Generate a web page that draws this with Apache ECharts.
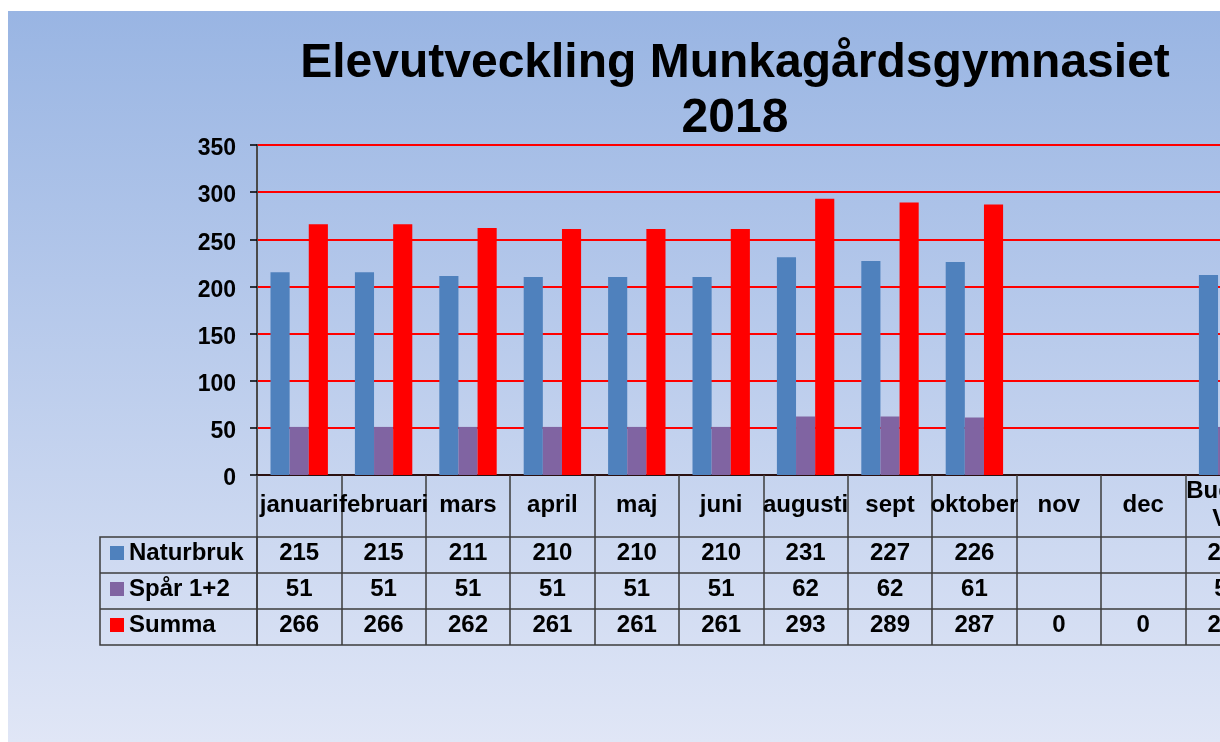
<!DOCTYPE html>
<html>
<head>
<meta charset="utf-8">
<script src="https://cdn.jsdelivr.net/npm/echarts@6/dist/echarts.min.js"></script>
<style>
  html, body { margin: 0; padding: 0; background: #fff; overflow: hidden; width: 1220px; height: 742px; }
  #bg {
    position: absolute; left: 8px; top: 11px; width: 1212px; height: 731px;
    background: linear-gradient(#99b5e3, #e0e6f6);
  }
  /* wider than the window: the last column runs past the right edge, as in the source */
  #chart { position: absolute; left: 0; top: 0; width: 1300px; height: 742px; }
</style>
</head>
<body>
<div id="bg"></div>
<div id="chart"></div>
<script>
const months = ['januari', 'februari', 'mars', 'april', 'maj', 'juni', 'augusti', 'sept', 'oktober', 'nov', 'dec', 'Budget\nVT'];
const naturbruk = [215, 215, 211, 210, 210, 210, 231, 227, 226, null, null, 212];
const spar = [51, 51, 51, 51, 51, 51, 62, 62, 61, null, null, 51];
const summa = [266, 266, 262, 261, 261, 261, 293, 289, 287, 0, 0, 263];
const yTicks = [0, 50, 100, 150, 200, 250, 300, 350];

const FONT = "'Liberation Sans', Arial, sans-serif";
const lineColor = '#3c3c3c';

// plot geometry
const plotLeft = 257, plotTop = 145, plotHeight = 330, colWidth = 84.4;
const headerRow = 62, rowH = 36;

const chart = echarts.init(document.getElementById('chart'));

function tableAxis(values, offset) {
  return {
    type: 'category',
    position: 'bottom',
    offset: offset,
    data: months,
    boundaryGap: true,
    axisLine: { show: true, lineStyle: { color: lineColor, width: 1.5 } },
    axisTick: { show: !!values, interval: 0, length: rowH, lineStyle: { color: lineColor, width: 1.5 } },
    axisLabel: {
      show: !!values,
      interval: 0,
      margin: 16,
      verticalAlign: 'middle',
      color: '#000',
      fontFamily: FONT,
      fontWeight: 'bold',
      fontSize: 24,
      formatter: (v, i) => (values && values[i] != null ? String(values[i]) : '')
    },
    splitLine: { show: false }
  };
}

const option = {
  animation: false,
  backgroundColor: 'transparent',
  title: {
    text: 'Elevutveckling Munkagårdsgymnasiet\n2018',
    left: 735,
    top: 36,
    padding: 0,
    textAlign: 'center',
    textStyle: {
      fontFamily: FONT,
      fontWeight: 'bold',
      fontSize: 48,
      lineHeight: 55,
      color: '#000'
    }
  },
  legend: [
    { data: ['Naturbruk'], top: 541 },
    { data: ['Spår 1+2'], top: 577 },
    { data: ['Summa'], top: 613 }
  ].map(l => Object.assign({
    left: 110,
    padding: 0,
    icon: 'rect',
    itemWidth: 14,
    itemHeight: 14,
    selectedMode: false,
    textStyle: { fontFamily: FONT, fontWeight: 'bold', fontSize: 24, color: '#000' }
  }, l)),
  grid: {
    left: plotLeft,
    top: plotTop,
    height: plotHeight,
    width: colWidth * months.length,
    containLabel: false
  },
  xAxis: [
    {
      type: 'category',
      data: months,
      boundaryGap: true,
      axisLine: { show: true, lineStyle: { color: '#2a1010', width: 2 } },
      axisTick: { show: true, interval: 0, length: headerRow, lineStyle: { color: lineColor, width: 1.5 } },
      axisLabel: {
        interval: 0,
        margin: 30,
        verticalAlign: 'middle',
        lineHeight: 28,
        color: '#000',
        fontFamily: FONT,
        fontWeight: 'bold',
        fontSize: 24
      }
    },
    tableAxis(naturbruk, headerRow),
    tableAxis(spar, headerRow + rowH),
    tableAxis(summa, headerRow + rowH * 2),
    tableAxis(null, headerRow + rowH * 3)
  ],
  yAxis: {
    type: 'value',
    min: yTicks[0],
    max: yTicks[yTicks.length - 1],
    interval: 50,
    axisLine: { show: true, lineStyle: { color: '#4a4a4a', width: 2 } },
    axisTick: { show: true, length: 7, lineStyle: { color: '#000', width: 1.5 } },
    axisLabel: {
      margin: 21,
      formatter: v => '{n|' + v + '}',
      rich: {
        n: {
          padding: [8, 0, 0, 0],
          color: '#000',
          fontFamily: FONT,
          fontWeight: 'bold',
          fontSize: 23
        }
      }
    },
    splitLine: { show: true, lineStyle: { color: '#ff0000', width: 2 } }
  },
  series: [
    { name: 'Naturbruk', type: 'bar', data: naturbruk, itemStyle: { color: '#4f81bd' } },
    { name: 'Spår 1+2', type: 'bar', data: spar, itemStyle: { color: '#8064a2' } },
    { name: 'Summa', type: 'bar', data: summa, itemStyle: { color: '#ff0000' } }
  ].map(s => Object.assign({ barGap: 0, barCategoryGap: '32%' }, s)),
  graphic: [
    // left header column of the data table
    { type: 'rect', shape: { x: 100, y: 537, width: plotLeft - 100, height: rowH * 3 },
      style: { fill: 'none', stroke: lineColor, lineWidth: 1.5 } },
    { type: 'line', shape: { x1: 100, y1: 537 + rowH, x2: plotLeft, y2: 537 + rowH },
      style: { stroke: lineColor, lineWidth: 1.5 } },
    { type: 'line', shape: { x1: 100, y1: 537 + rowH * 2, x2: plotLeft, y2: 537 + rowH * 2 },
      style: { stroke: lineColor, lineWidth: 1.5 } }
  ]
};

chart.setOption(option);
</script>
</body>
</html>
